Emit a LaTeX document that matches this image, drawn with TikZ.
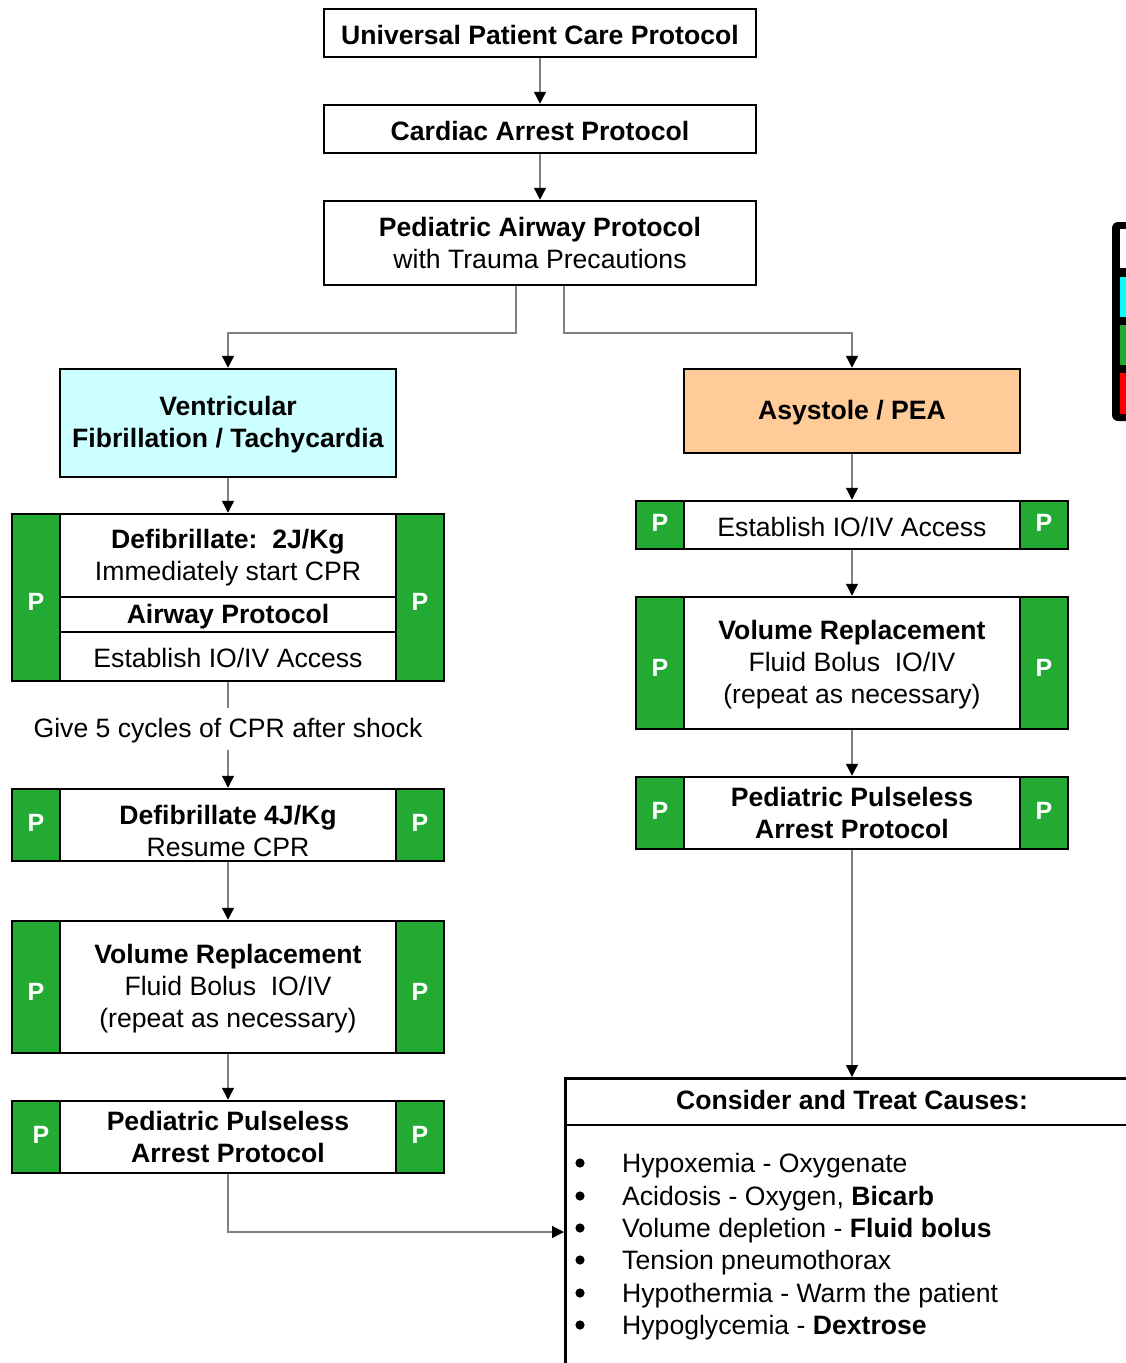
\documentclass[tikz,border=0pt]{standalone}
\usepackage{fontspec}
\setmainfont{Liberation Sans}
\usetikzlibrary{arrows.meta}
\definecolor{pgreen}{RGB}{34,170,50}
\definecolor{vfcyan}{RGB}{204,255,255}
\definecolor{peach}{RGB}{255,204,153}
\definecolor{keycyan}{RGB}{0,255,255}
\definecolor{keyred}{RGB}{255,0,0}
\definecolor{linkgray}{RGB}{128,128,128}

% invisible struts that nudge text within its box
\newcommand\toppad{\rule{0pt}{23pt}}   % a little lower
\newcommand\toppadx{\rule{0pt}{31pt}}  % lower still
\newcommand\plow{\rule{0pt}{26pt}}     % P letter, lower
\newcommand\phigh{\rule[-4pt]{0pt}{4pt}}% P letter, higher

% pair of green "P" side columns: name, left x, right x, centre y, height, strut
\newcommand\pcolpair[6]{%
  \node[pcol, minimum height=#5pt] (#1-l) at (#2,#4) {#6P};
  \node[pcol, minimum height=#5pt] (#1-r) at (#3,#4) {#6P};}

\begin{document}
\begin{tikzpicture}[x=1pt,y=-1pt,
  font=\fontsize{26.6}{32}\selectfont,
  box/.style={draw=black,line width=2.5pt,fill=white,align=center,inner sep=0pt},
  mid/.style={box,minimum width=336pt},
  pcol/.style={draw=black,line width=2.5pt,fill=pgreen,text=white,
    font=\fontsize{25}{28}\selectfont\bfseries,minimum width=48pt,inner sep=0pt},
  link/.style={draw=linkgray,line width=1.3pt},
  flow/.style={link,-{Triangle[length=12pt,width=12pt,color=black]}},
  item/.style={anchor=base west,inner sep=0pt},
]
\useasboundingbox (0,0) rectangle (1126,1363);
\clip (0,0) rectangle (1126,1363);

% ---- top chain ----
\node[box,minimum width=432pt,minimum height=48pt] (upc) at (540,33)
  {\toppad\textbf{Universal Patient Care Protocol}};
\node[box,minimum width=432pt,minimum height=48pt] (cap) at (540,129)
  {\toppad\textbf{Cardiac Arrest Protocol}};
\node[box,minimum width=432pt,minimum height=84pt] (pap) at (540,243)
  {\textbf{Pediatric Airway Protocol}\\with Trauma Precautions};

% ---- rhythm boxes ----
\node[box,fill=vfcyan,minimum width=336pt,minimum height=108pt] (vf) at (228,423)
  {\toppad\textbf{Ventricular}\\\textbf{Fibrillation / Tachycardia}};
\node[box,fill=peach,minimum width=336pt,minimum height=84pt] (asy) at (852,411)
  {\toppad\textbf{Asystole / PEA}};

% ---- left column ----
\node[mid,minimum height=83pt] (lp1a) at (228,555.5)
  {\toppad\textbf{Defibrillate:\ \ 2J/Kg}\\Immediately start CPR};
\node[mid,minimum height=35pt] (lp1b) at (228,614.5) {\toppad\textbf{Airway Protocol}};
\node[mid,minimum height=49pt] (lp1c) at (228,656.5) {\toppad Establish IO/IV Access};
\pcolpair{lp1}{36}{420}{597.5}{167}{\plow}

\node[inner sep=0pt,minimum height=42pt] (give) at (228,729)
  {\toppad Give 5 cycles of CPR after shock};

\node[mid,minimum height=72pt] (lp2) at (228,825)
  {\toppadx\textbf{Defibrillate 4J/Kg}\\Resume CPR};
\pcolpair{lp2}{36}{420}{825}{72}{\phigh}

\node[mid,minimum height=132pt] (lp3) at (228,987)
  {\toppad\textbf{Volume Replacement}\\Fluid Bolus\ \ IO/IV\\(repeat as necessary)};
\pcolpair{lp3}{36}{420}{987}{132}{\plow}

\node[mid,minimum height=72pt] (lp4) at (228,1137)
  {\textbf{Pediatric Pulseless}\\\textbf{Arrest Protocol}};
\node[pcol, minimum height=72pt] (lp4-l) at (36,1137) {\phigh\hspace*{10pt}P};
\node[pcol, minimum height=72pt] (lp4-r) at (420,1137) {\phigh P};

% ---- right column ----
\node[mid,minimum height=48pt] (rp1) at (852,525) {\toppad Establish IO/IV Access};
\pcolpair{rp1}{660}{1044}{525}{48}{\phigh}

\node[mid,minimum height=132pt] (rp2) at (852,663)
  {\toppad\textbf{Volume Replacement}\\Fluid Bolus\ \ IO/IV\\(repeat as necessary)};
\pcolpair{rp2}{660}{1044}{663}{132}{\plow}

\node[mid,minimum height=72pt] (rp3) at (852,813)
  {\textbf{Pediatric Pulseless}\\\textbf{Arrest Protocol}};
\pcolpair{rp3}{660}{1044}{813}{72}{\phigh}

% ---- causes box (runs past the page edge) ----
\node[box,anchor=north west,minimum width=620pt,minimum height=340pt] (cons) at (564,1077) {};
\draw[line width=2.5pt] (564,1125) -- (1140,1125);
\node[inner sep=0pt] (consh) at (852,1100) {\textbf{Consider and Treat Causes:}};
\foreach \yy/\txt in {1163/{Hypoxemia - Oxygenate},
                      1196/{Acidosis - Oxygen, \textbf{Bicarb}},
                      1228/{Volume depletion - \textbf{Fluid bolus}},
                      1260/{Tension pneumothorax},
                      1293/{Hypothermia - Warm the patient},
                      1325/{Hypoglycemia - \textbf{Dextrose}}}{
  \fill (580,\yy) circle (4.6pt);
  \node[item] at (622,\yy+9.5) {\txt};
}

% ---- colour key at the right edge ----
\fill[black,rounded corners=6pt] (1112,222) rectangle (1160,421);
\fill[white]            (1120,229) rectangle (1160,268);
\fill[keycyan]          (1120,277) rectangle (1160,317);
\fill[pgreen]           (1120,325) rectangle (1160,365);
\fill[keyred]           (1120,373) rectangle (1160,414);

% ---- connectors ----
\coordinate (splitl) at (516,333);
\coordinate (splitr) at (564,333);
\coordinate (joinc) at (564,1232);
\draw[flow] (upc) -- (cap);
\draw[flow] (cap) -- (pap);
\draw[flow] (pap.south -| splitl) -- (splitl) -| (vf.north);
\draw[flow] (pap.south -| splitr) -- (splitr) -| (asy.north);
\draw[flow] (vf) -- (lp1a);
\draw[link] (lp1c.south) -- (give.north);
\draw[flow] (give.south) -- (lp2.north);
\draw[flow] (lp2) -- (lp3);
\draw[flow] (lp3) -- (lp4);
\draw[flow] (lp4.south) |- (joinc);
\draw[flow] (asy) -- (rp1);
\draw[flow] (rp1) -- (rp2);
\draw[flow] (rp2) -- (rp3);
\draw[flow] (rp3.south) -- (rp3.south |- cons.north);
\end{tikzpicture}
\end{document}
